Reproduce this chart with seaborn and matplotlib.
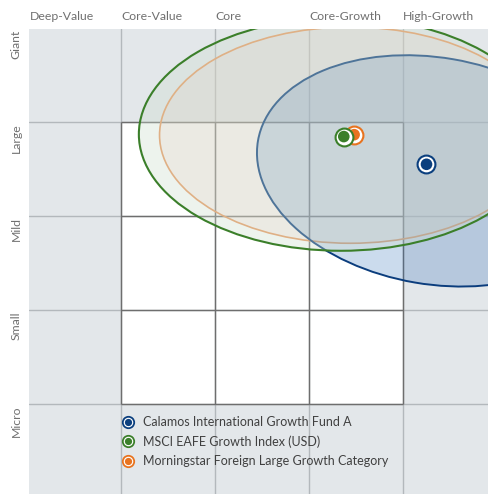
import matplotlib
matplotlib.use("Agg")
import matplotlib.pyplot as plt
from matplotlib.patches import Ellipse, Rectangle
from matplotlib.lines import Line2D
from matplotlib.legend_handler import HandlerTuple
import seaborn as sns
import pandas as pd

# ---- data (style-box coordinates: columns 0..5 left->right, rows 0..5 top->bottom)
col_labels = ["Deep-Value", "Core-Value", "Core", "Core-Growth", "High-Growth"]
row_labels = ["Giant", "Large", "Mild", "Small", "Micro"]
names = ["Calamos International Growth Fund A",
         "MSCI EAFE Growth Index (USD)",
         "Morningstar Foreign Large Growth Category"]
centroid_x = [4.25, 3.37, 3.48]
centroid_y = [1.45, 1.155, 1.135]
zone_cx = [4.33, 3.34, 3.44]
zone_cy = [1.52, 1.13, 1.14]
zone_w = [3.80, 4.30, 4.06]
zone_h = [2.41, 2.48, 2.30]
zone_angle = [9.75, 0.0, 0.0]

# ---- styles
marker_colors = ["#0b3f7e", "#3b7f2a", "#e8731f"]
edge_colors = ["#0b3d7d", "#3b7f2a", "#e9995f"]
fill_colors = [(40/255, 105/255, 180/255, 0.24),
               (206/255, 221/255, 206/255, 0.35),
               (240/255, 194/255, 179/255, 0.20)]
edge_widths = [1.4, 1.5, 1.2]
bg = "#e3e7ea"
grid_light = "#b3b8bc"
grid_dark = "#6e6e6e"
text_gray = "#707070"

sns.set_theme(style="white")
plt.rcParams["font.family"] = ["Lato", "DejaVu Sans"]

W, H = 489, 494
fig = plt.figure(figsize=(W / 100, H / 100), dpi=100)
ax = fig.add_axes([29 / W, 0, 460 / W, 465 / H])
ax.set_facecolor(bg)
for s in ax.spines.values():
    s.set_visible(False)
ax.set_xticks([])
ax.set_yticks([])

unit = 94.0
x0px, y0px = 27.0, 28.0
ax.set_xlim((29 - x0px) / unit, (489 - x0px) / unit)
ax.set_ylim((494 - y0px) / unit, (29 - y0px) / unit)
ax.set_aspect("auto")

# white 3x3 box
ax.add_patch(Rectangle((1, 1), 3, 3, facecolor="white", edgecolor="none", zorder=0.5))
# light grid lines across
for k in range(1, 5):
    ax.axvline(k, color=grid_light, lw=1.0, zorder=1)
    ax.axhline(k, color=grid_light, lw=1.0, zorder=1)
# dark box lines
for k in range(1, 5):
    ax.plot([k, k], [1, 4], color=grid_dark, lw=1.0, zorder=1.2, solid_capstyle="butt")
    ax.plot([1, 4], [k, k], color=grid_dark, lw=1.0, zorder=1.2, solid_capstyle="butt")

# ownership zones: order orange, blue, green
for z, i in enumerate([2, 0, 1]):
    e = Ellipse((zone_cx[i], zone_cy[i]), zone_w[i], zone_h[i], angle=zone_angle[i],
                facecolor=fill_colors[i], edgecolor=edge_colors[i], lw=edge_widths[i],
                zorder=2 + z)
    ax.add_patch(e)

# centroids
df = pd.DataFrame({"name": names, "x": centroid_x, "y": centroid_y})
for z, i in enumerate([2, 1, 0]):
    sub = df.iloc[[i]]
    sns.scatterplot(data=sub, x="x", y="y", s=165, color="white",
                    edgecolor=marker_colors[i], linewidth=1.5, ax=ax,
                    zorder=10 + 2 * z, legend=False)
    sns.scatterplot(data=sub, x="x", y="y", s=70, color=marker_colors[i],
                    edgecolor="none", linewidth=0, ax=ax,
                    zorder=11 + 2 * z, legend=False)
ax.set_xlabel("")
ax.set_ylabel("")

# column labels
col_x = [(30 - x0px) / unit, 1.0, 2.0, 3.0, 4.0]
for lab, cx in zip(col_labels, col_x):
    ax.text(cx, (16 - y0px) / unit, lab, ha="left", va="center", fontsize=8.8,
            color=text_gray, clip_on=False)
# row labels
for r, lab in enumerate(row_labels):
    ax.text((16 - x0px) / unit, r + 0.015, lab, ha="center", va="top", rotation=90,
            fontsize=8.8, color=text_gray, clip_on=False)

# legend
handles = []
for i in range(3):
    ring = Line2D([], [], marker="o", linestyle="none", markersize=8.2,
                  markerfacecolor="white", markeredgecolor=marker_colors[i],
                  markeredgewidth=1.3)
    dot = Line2D([], [], marker="o", linestyle="none", markersize=5.2,
                 markerfacecolor=marker_colors[i], markeredgecolor="none")
    handles.append((ring, dot))
leg = ax.legend(handles, names, handler_map={tuple: HandlerTuple(ndivide=1)},
                loc="upper left", bbox_to_anchor=((122 - x0px) / unit, (416 - y0px) / unit),
                bbox_transform=ax.transData, frameon=False, fontsize=9,
                handlelength=1.0, handletextpad=0.65, borderpad=0, borderaxespad=0,
                labelspacing=0.58, labelcolor="#404040")

fig.savefig("out.png", dpi=100)
